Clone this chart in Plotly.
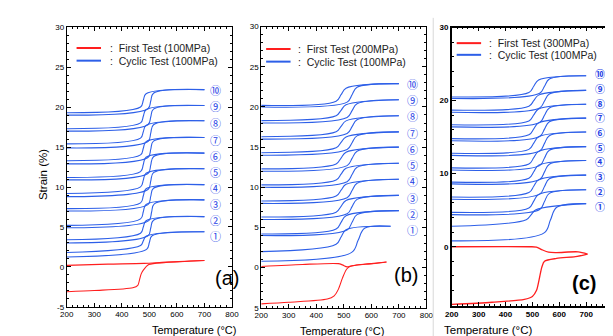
import plotly.graph_objects as go

W, H = 613, 336
T0 = 200

# ---------------- data ----------------
# Panel (a): First test 100 MPa, cyclic 100 MPa
A_START = [1.25, 3.0, 4.9, 7.0, 8.8, 10.9, 12.9, 14.9, 17.0, 19.0]
A_END   = [1.8, 3.4, 5.2, 7.3, 9.2, 11.2, 13.3, 15.4, 17.3, 19.3]
A_LO    = [2.2, 3.9, 5.8, 7.8, 9.7, 11.7, 13.7, 15.7, 17.8, 19.8]
A_HI    = [3.9, 5.85, 7.9, 9.85, 11.8, 13.8, 15.75, 17.8, 19.75, 21.75]
A_TOP   = [4.4, 6.3, 8.4, 10.3, 12.3, 14.25, 16.2, 18.3, 20.2, 22.2]
A_TMAX  = [700, 700, 700, 700, 700, 700, 700, 700, 700, 700]
A_THEAT = [500, 505, 508, 505, 505, 505, 505, 505, 505, 505]
A_TCOOL = [478, 478, 478, 478, 478, 478, 478, 478, 478, 478]
A_LABEL_Y = [3.9, 5.93, 7.83, 9.87, 11.9, 13.9, 15.95, 18.0, 20.1, 22.2]
A_RED_HEAT_T = [200, 300, 440, 458, 465, 470, 478, 498, 560, 700]
A_RED_HEAT_E = [-3.1, -2.95, -2.6, -2.3, -1.5, -0.9, -0.4, 0.3, 0.55, 0.8]
A_RED_COOL_T = [700, 560, 480, 350, 200]
A_RED_COOL_E = [0.8, 0.6, 0.45, 0.35, 0.2]

# Panel (b): First test 200 MPa, cyclic 100 MPa
B_START = [0.8, 4.0, 6.0, 8.0, 10.0, 12.0, 14.0, 16.0, 18.0, 20.0]
B_END   = [2.0, 4.2, 6.3, 8.3, 10.3, 12.3, 14.3, 16.3, 18.3, 20.2]
B_LO    = [1.9, 4.7, 6.7, 8.7, 10.7, 12.7, 14.7, 16.7, 18.7, 20.6]
B_HI    = [4.9, 6.6, 8.5, 10.5, 12.5, 14.5, 16.4, 18.4, 20.4, 22.45]
B_TOP   = [5.15, 7.1, 9.0, 11.0, 13.0, 15.0, 16.9, 18.9, 20.9, 22.9]
B_TMAX  = [670, 700, 700, 700, 700, 700, 700, 700, 700, 700]
B_THEAT = [552, 530, 530, 530, 530, 530, 530, 530, 530, 530]
B_TCOOL = [490, 490, 490, 490, 490, 490, 490, 490, 490, 490]
B_LABEL_Y = [4.7, 6.7, 8.7, 10.75, 12.8, 14.8, 16.8, 18.9, 20.9, 22.9]
B_RED_HEAT_T = [200, 300, 440, 465, 480, 495, 510, 522, 580, 620, 655]
B_RED_HEAT_E = [-4.5, -4.3, -3.9, -3.5, -2.7, -1.3, -0.2, 0.15, 0.45, 0.55, 0.7]
B_RED_COOL_T = [655, 600, 530, 512, 495, 480, 350, 200]
B_RED_COOL_E = [0.7, 0.5, 0.25, 0.1, 0.35, 0.5, 0.4, 0.15]

# Panel (c): First test 300 MPa, cyclic 100 MPa
C_START = [0.8, 4.4, 6.5, 8.6, 10.5, 12.5, 14.5, 16.4, 18.4, 20.3]
C_END   = [2.8, 4.7, 6.8, 8.85, 10.8, 12.8, 14.8, 16.7, 18.7, 20.5]
C_LO    = [1.9, 5.1, 7.2, 9.2, 11.1, 13.1, 15.1, 17.0, 19.0, 21.0]
C_HI    = [5.4, 7.3, 9.3, 11.3, 13.2, 15.2, 17.1, 19.0, 20.9, 22.95]
C_TOP   = [5.9, 7.8, 9.8, 11.8, 13.7, 15.7, 17.6, 19.5, 21.4, 23.4]
C_TMAX  = [700, 700, 700, 700, 700, 700, 700, 700, 700, 700]
C_THEAT = [567, 545, 545, 545, 545, 545, 545, 545, 545, 545]
C_TCOOL = [495, 505, 505, 505, 505, 505, 505, 505, 505, 505]
C_LABEL_Y = [5.5, 7.6, 9.6, 11.6, 13.6, 15.6, 17.7, 19.6, 21.6, 23.7]
C_RED_HEAT_T = [200, 350, 470, 500, 515, 525, 535, 545, 590, 660, 705]
C_RED_HEAT_E = [-7.9, -7.6, -7.2, -6.8, -6.0, -4.5, -2.8, -2.0, -1.6, -1.35, -1.0]
C_RED_COOL_T = [705, 670, 590, 560, 535, 515, 490, 200]
C_RED_COOL_E = [-1.0, -0.7, -0.8, -0.75, -0.4, -0.05, 0.0, 0.0]

CYCLE_LABELS = ["①", "②", "③", "④", "⑤", "⑥", "⑦", "⑧", "⑨", "⑩"]
X_TICKS = [200, 300, 400, 500, 600, 700, 800]

# ---------------- styling ----------------
BLUE = "#2d5fe8"
RED = "#ff1e1e"
FONT = "Liberation Sans, Arial, sans-serif"
CIRC_FONT = "Noto Sans CJK JP, DejaVu Sans, sans-serif"


def px(x):
    return x / W


def py(y):
    return 1 - y / H


panels = [
    dict(name="a", start=A_START, end=A_END, lo=A_LO, hi=A_HI, top=A_TOP, tmax=A_TMAX,
         th=A_THEAT, tc=A_TCOOL, laby=A_LABEL_Y, labx=739, w=10, csize=11,
         rh=(A_RED_HEAT_T, A_RED_HEAT_E), rc=(A_RED_COOL_T, A_RED_COOL_E),
         xdom=(53, 222), ydom=(15.7, 303), yr=(-5, 30),
         yt=[-5, 0, 5, 10, 15, 20, 25, 30], ytt=["-5", "0", "5", "10", "15", "20", "25", "30"],
         ydt=1, first="First Test (100MPa)", leg=(63, 88, 37, 50, 95),
         tag="(a)", tagpos=(203, 287), bold=False, xt=(139, 327)),
    dict(name="b", start=B_START, end=B_END, lo=B_LO, hi=B_HI, top=B_TOP, tmax=B_TMAX,
         th=B_THEAT, tc=B_TCOOL, laby=B_LABEL_Y, labx=748, w=18, csize=11,
         rh=(B_RED_HEAT_T, B_RED_HEAT_E), rc=(B_RED_COOL_T, B_RED_COOL_E),
         xdom=(252, 421), ydom=(15, 304), yr=(-5, 30),
         yt=[-5, 0, 5, 10, 15, 20, 25, 30], ytt=["5", "0", "5", "10", "15", "20", "25", "30"],
         ydt=1, first="First Test (200MPa)", leg=(257, 282, 38, 51, 288),
         tag="(b)", tagpos=(400, 284), bold=False, xt=(335, 328)),
    dict(name="c", start=C_START, end=C_END, lo=C_LO, hi=C_HI, top=C_TOP, tmax=C_TMAX,
         th=C_THEAT, tc=C_TCOOL, laby=C_LABEL_Y, labx=752, w=18, csize=10,
         rh=(C_RED_HEAT_T, C_RED_HEAT_E), rc=(C_RED_COOL_T, C_RED_COOL_E),
         xdom=(447, 612), ydom=(16, 302), yr=(-8.1, 30),
         yt=[0, 10, 20, 30], ytt=["0", "10", "20", "30"],
         ydt=2, first="First Test (300MPa)", leg=(452, 477, 32, 44, 483),
         tag="(c)", tagpos=(597, 292), bold=True, xt=(530, 327)),
]

fig = go.Figure()
annotations = []
shapes = []

for i, p in enumerate(panels):
    sfx = "" if i == 0 else str(i + 1)
    xa, ya = "x" + sfx, "y" + sfx
    w = p["w"]
    # cyclic loops
    for k in range(10):
        s, e, lo, hi, top = p["start"][k], p["end"][k], p["lo"][k], p["hi"][k], p["top"][k]
        th, tc, tmax = p["th"][k], p["tc"][k], p["tmax"][k]
        wh = w * 1.3 if (k == 0 and p["name"] != "a") else w
        hx = [T0, th - wh, th, th + wh, tmax]
        hy = [s, lo, (lo + hi) / 2, hi, top]
        slope_u = (top - hi) / (tmax - th - wh)
        cu_t = tc + w
        cu = hi - slope_u * (th + wh - cu_t)
        cl_t = tc - w
        cl = e + (lo - s) * (cl_t - T0) / (th - wh - T0)
        cx = [tmax, cu_t, tc, cl_t, T0]
        cy = [top, cu, (cu + cl) / 2, cl, e]
        for X, Y in ((hx, hy), (cx, cy)):
            fig.add_trace(go.Scatter(x=X, y=Y, mode="lines", xaxis=xa, yaxis=ya,
                                     line=dict(color=BLUE, width=1.1, shape="spline", smoothing=1.0),
                                     showlegend=False, hoverinfo="skip"))
        annotations.append(dict(x=p["labx"], y=p["laby"][k], xref=xa, yref=ya,
                                text=("<b>%s</b>" % CYCLE_LABELS[k]) if p["bold"] else CYCLE_LABELS[k],
                                showarrow=False, borderpad=0,
                                font=dict(family=CIRC_FONT, size=p["csize"], color="#1f3fe6")))
    # first test (red)
    for X, Y in (p["rh"], p["rc"]):
        fig.add_trace(go.Scatter(x=X, y=Y, mode="lines", xaxis=xa, yaxis=ya,
                                 line=dict(color=RED, width=1.3 if p["bold"] else 1.1,
                                           shape="spline", smoothing=0.8),
                                 showlegend=False, hoverinfo="skip"))

    lw = 1.6 if p["bold"] else 1
    tickfont = dict(family=FONT, size=8, color="black")
    fig.layout["xaxis" + sfx] = dict(
        domain=[px(p["xdom"][0]), px(p["xdom"][1])], range=[200, 800], anchor=ya,
        tickmode="array", tickvals=X_TICKS,
        ticktext=[("<b>%d</b>" % v) if p["bold"] else str(v) for v in X_TICKS],
        ticks="inside", ticklen=4, tickcolor="black", mirror="allticks",
        showline=True, linecolor="black", linewidth=lw, showgrid=False, zeroline=False,
        minor=dict(ticks="inside", ticklen=2, dtick=20, tick0=200, tickcolor="black"),
        tickfont=tickfont, fixedrange=True)
    fig.layout["yaxis" + sfx] = dict(
        domain=[py(p["ydom"][1]), py(p["ydom"][0])], range=list(p["yr"]), anchor=xa,
        tickmode="array", tickvals=p["yt"],
        ticktext=[("<b>%s</b>" % t) if p["bold"] else t for t in p["ytt"]],
        ticks="inside", ticklen=4, tickcolor="black", mirror="allticks",
        showline=True, linecolor="black", linewidth=lw, showgrid=False, zeroline=False,
        minor=dict(ticks="inside", ticklen=2, dtick=p["ydt"], tick0=0, tickcolor="black"),
        tickfont=tickfont, fixedrange=True)

    # legend drawn as shapes + text
    x0, x1, yl1, yl2, xt = p["leg"]
    for yy, col, txt in ((yl1, RED, p["first"]), (yl2, BLUE, "Cyclic Test (100MPa)")):
        shapes.append(dict(type="line", xref="paper", yref="paper",
                           x0=px(x0), x1=px(x1), y0=py(yy), y1=py(yy),
                           line=dict(color=col, width=2)))
        annotations.append(dict(x=px(xt), y=py(yy), xref="paper", yref="paper",
                                xanchor="left", yanchor="middle", showarrow=False,
                                text=":  " + txt,
                                font=dict(family=FONT, size=10.5, color="#222")))
    # panel tag
    annotations.append(dict(x=px(p["tagpos"][0]), y=py(p["tagpos"][1]), xref="paper", yref="paper",
                            showarrow=False,
                            text=("<b>%s</b>" % p["tag"]) if p["bold"] else p["tag"],
                            font=dict(family=FONT, size=20, color="black")))
    # x title
    annotations.append(dict(x=px(p["xt"][0]), y=py(p["xt"][1]), xref="paper", yref="paper",
                            showarrow=False, yanchor="middle", borderpad=0,
                            text="Temperature (°C)",
                            font=dict(family=FONT, size=11.5 if p["bold"] else 11, color="black")))

annotations.append(dict(x=px(20), y=py(167), xref="paper", yref="paper", showarrow=False,
                        text="Strain (%)", textangle=-90,
                        font=dict(family=FONT, size=11.5, color="black")))
shapes.append(dict(type="line", xref="paper", yref="paper", x0=px(428), x1=px(428),
                   y0=py(336), y1=py(6), line=dict(color="#d8d8d8", width=1)))

fig.update_layout(width=W, height=H, margin=dict(l=0, r=0, t=0, b=0),
                  paper_bgcolor="white", plot_bgcolor="white",
                  annotations=annotations, shapes=shapes, showlegend=False)

fig.write_html("out.html")
